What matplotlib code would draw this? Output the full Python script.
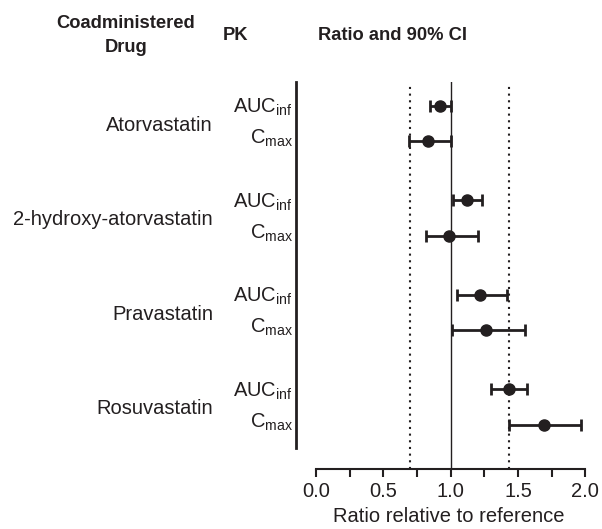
import matplotlib
matplotlib.use("Agg")
import matplotlib.pyplot as plt
import matplotlib.transforms as mtransforms
import numpy as np

ink = "#231f20"

plt.rcParams["font.family"] = ["Liberation Sans", "DejaVu Sans"]
plt.rcParams["mathtext.fontset"] = "custom"
plt.rcParams["mathtext.rm"] = "Liberation Sans"
plt.rcParams["mathtext.default"] = "regular"
plt.rcParams["text.color"] = ink
plt.rcParams["xtick.color"] = ink
plt.rcParams["axes.labelcolor"] = ink

# Data
drugs = ["Atorvastatin", "2-hydroxy-atorvastatin", "Pravastatin", "Rosuvastatin"]
pk_labels = ["AUC$_{inf}$", "C$_{max}$"]

ratio = [0.92, 0.83, 1.12, 0.99, 1.22, 1.26, 1.43, 1.69]
ci_low = [0.85, 0.69, 1.02, 0.82, 1.05, 1.01, 1.30, 1.43]
ci_high = [1.00, 1.00, 1.23, 1.20, 1.42, 1.55, 1.57, 1.97]

bounds = [0.70, 1.43]
xticks = [0.0, 0.5, 1.0, 1.5, 2.0]
xminor = [0.25, 0.75, 1.25, 1.75]

W, H = 602, 529

fig = plt.figure(figsize=(W / 100, H / 100), dpi=100)
ax = fig.add_axes([296 / W, 1 - 469 / H, (W - 296) / W, (469 - 82) / H])

# row positions: two PK rows per drug, wider gap between drugs
group_step = 2.66
ypos = []
for g in range(len(drugs)):
    ypos += [g * group_step, g * group_step + 1]
ypos = np.array(ypos)

ratio = np.array(ratio)
err = [ratio - np.array(ci_low), np.array(ci_high) - ratio]

ax.axvline(1.0, color=ink, lw=1.0, zorder=1)
for b in bounds:
    ax.axvline(b, color=ink, lw=1.5, ls=(0, (1, 2.2)), ymax=0.99, zorder=1)

ax.errorbar(ratio, ypos, xerr=err, fmt="o", color=ink, ms=8,
            elinewidth=2, capsize=4.5, capthick=2, zorder=3)

ax.set_xlim(-0.148, 2.123)
ax.set_ylim(ypos[-1] + 1.24, -0.67)

ax.spines["top"].set_visible(False)
ax.spines["right"].set_visible(False)
ax.spines["left"].set_linewidth(2)
ax.spines["left"].set_color(ink)
ax.spines["left"].set_bounds(-0.67, ypos[-1] + 0.65)
ax.spines["bottom"].set_linewidth(1.5)
ax.spines["bottom"].set_color(ink)
ax.spines["bottom"].set_bounds(0, 2)
ax.set_yticks([])
ax.set_xticks(xticks)
ax.set_xticks(xminor, minor=True)
ax.set_xticklabels([f"{t:.1f}" for t in xticks], fontsize=14.5)
ax.tick_params(axis="x", which="both", direction="out", length=5.5,
               width=1.5, color=ink, pad=4)
ax.set_xlabel("Ratio relative to reference", fontsize=14.5, labelpad=4)

# row labels
trans = mtransforms.blended_transform_factory(fig.transFigure, ax.transData)
for g, d in enumerate(drugs):
    ymid = (ypos[2 * g] + ypos[2 * g + 1]) / 2
    ax.text(213 / W, ymid + 0.2, d, transform=trans, ha="right",
            va="baseline", fontsize=14.5)
    ax.text(293 / W, ypos[2 * g] + 0.2, pk_labels[0], transform=trans,
            ha="right", va="baseline", fontsize=14.5)
    ax.text(293 / W, ypos[2 * g + 1] + 0.07, pk_labels[1], transform=trans,
            ha="right", va="baseline", fontsize=14.5)

# headers
fig.text(126 / W, 1 - 23 / H, "Coadministered", ha="center", va="center",
         fontsize=13.2, fontweight="bold")
fig.text(126 / W, 1 - 47 / H, "Drug", ha="center", va="center",
         fontsize=13.2, fontweight="bold")
fig.text(236 / W, 1 - 36 / H, "PK", ha="center", va="center",
         fontsize=13.2, fontweight="bold")
fig.text(392 / W, 1 - 36 / H, "Ratio and 90% CI", ha="center", va="center",
         fontsize=13.2, fontweight="bold")

plt.savefig("out.png", dpi=100)
